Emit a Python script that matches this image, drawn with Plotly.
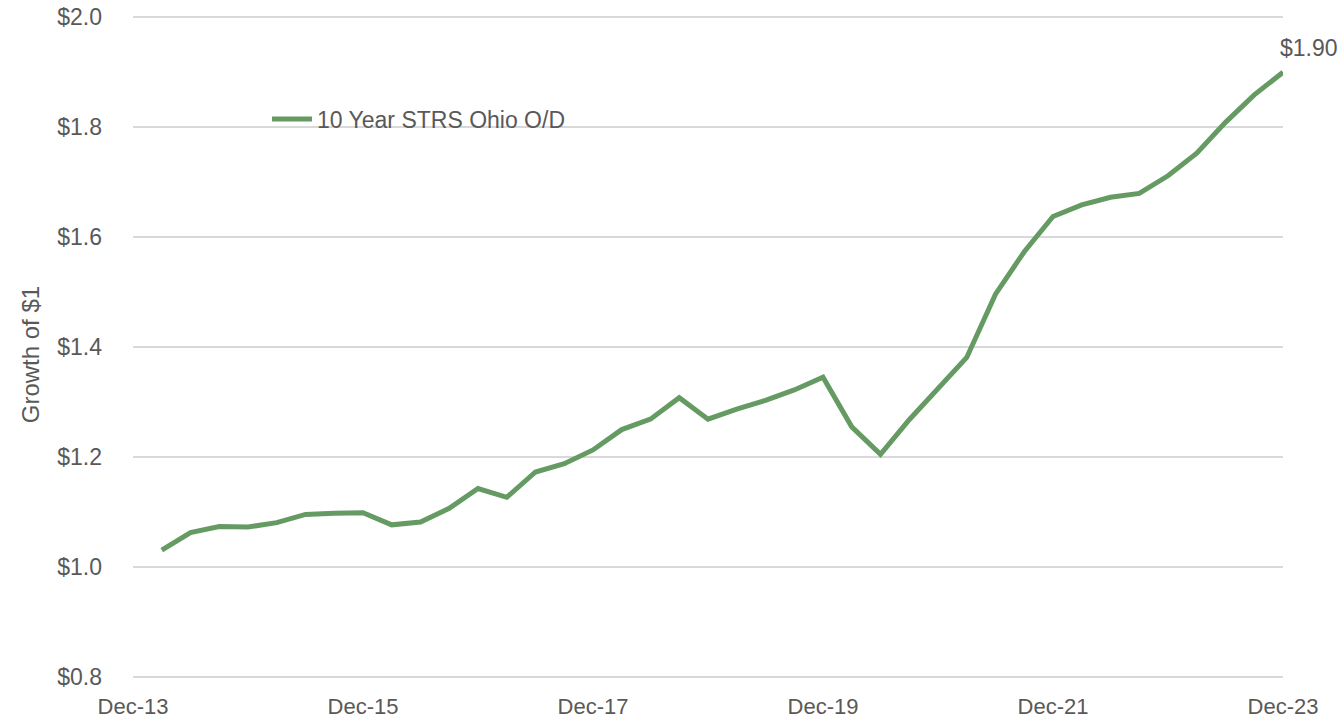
import plotly.graph_objects as go

quarters = ["Dec-13",
            "Mar-14", "Jun-14", "Sep-14", "Dec-14",
            "Mar-15", "Jun-15", "Sep-15", "Dec-15",
            "Mar-16", "Jun-16", "Sep-16", "Dec-16",
            "Mar-17", "Jun-17", "Sep-17", "Dec-17",
            "Mar-18", "Jun-18", "Sep-18", "Dec-18",
            "Mar-19", "Jun-19", "Sep-19", "Dec-19",
            "Mar-20", "Jun-20", "Sep-20", "Dec-20",
            "Mar-21", "Jun-21", "Sep-21", "Dec-21",
            "Mar-22", "Jun-22", "Sep-22", "Dec-22",
            "Mar-23", "Jun-23", "Sep-23", "Dec-23"]

growth = [None,
          1.031, 1.063, 1.074, 1.073,
          1.081, 1.096, 1.098, 1.099,
          1.077, 1.082, 1.107, 1.143,
          1.127, 1.173, 1.188, 1.213,
          1.250, 1.269, 1.308, 1.269,
          1.287, 1.303, 1.322, 1.345,
          1.255, 1.205, 1.268, 1.323,
          1.381, 1.496, 1.573, 1.637,
          1.658, 1.672, 1.679, 1.711,
          1.752, 1.808, 1.858, 1.899]

x_tick_labels = ["Dec-13", "Dec-15", "Dec-17", "Dec-19", "Dec-21", "Dec-23"]
y_tick_values = [0.8, 1.0, 1.2, 1.4, 1.6, 1.8, 2.0]
y_tick_labels = ["$0.8", "$1.0", "$1.2", "$1.4", "$1.6", "$1.8", "$2.0"]
series_name = "10 Year STRS Ohio O/D"
end_label = "$1.90"
y_title = "Growth of $1"

LINE = "rgb(101,155,99)"
TXT = "#595959"
FONT = "Liberation Sans, Arial, sans-serif"

fig = go.Figure()
fig.add_trace(go.Scatter(
    x=quarters, y=growth, mode="lines", name=series_name,
    line=dict(color=LINE, width=5), connectgaps=False,
))

fig.add_annotation(
    x=quarters[-1], y=growth[-1], text=end_label, showarrow=False,
    xanchor="left", yanchor="bottom", xshift=-5, yshift=9,
    font=dict(family=FONT, size=23, color=TXT),
)

fig.add_annotation(
    xref="paper", yref="paper", x=-0.0896, y=0.489, text=y_title,
    showarrow=False, textangle=-90, xanchor="center", yanchor="middle",
    font=dict(family=FONT, size=24, color=TXT),
)

fig.update_layout(
    width=1340, height=718,
    margin=dict(l=133, r=57, t=15, b=39, autoexpand=False),
    paper_bgcolor="white", plot_bgcolor="white",
    font=dict(family=FONT, size=23, color=TXT),
    showlegend=True,
    legend=dict(x=0.1165, y=0.8434, xanchor="left", yanchor="middle",
                bgcolor="rgba(0,0,0,0)", font=dict(size=23, color=TXT),
                itemwidth=40),
    xaxis=dict(
        type="category", categoryorder="array", categoryarray=quarters,
        range=[0, len(quarters) - 1], automargin=False,
        tickmode="array", tickvals=x_tick_labels, ticktext=x_tick_labels,
        showgrid=False, zeroline=False, showline=False, ticks="",
        tickfont=dict(size=22, color=TXT), ticklabelstandoff=12,
    ),
    yaxis=dict(
        range=[0.797, 2.003], tickmode="array",
        tickvals=y_tick_values, ticktext=y_tick_labels,
        showgrid=True, gridcolor="#d9d9d9", gridwidth=1.5, zeroline=False,
        showline=False, ticks="", tickfont=dict(size=23, color=TXT),
        ticklabelstandoff=30, automargin=False,
    ),
)

fig.write_html("out.html", config={"displayModeBar": False},
               post_script="document.body.style.margin='0';")
